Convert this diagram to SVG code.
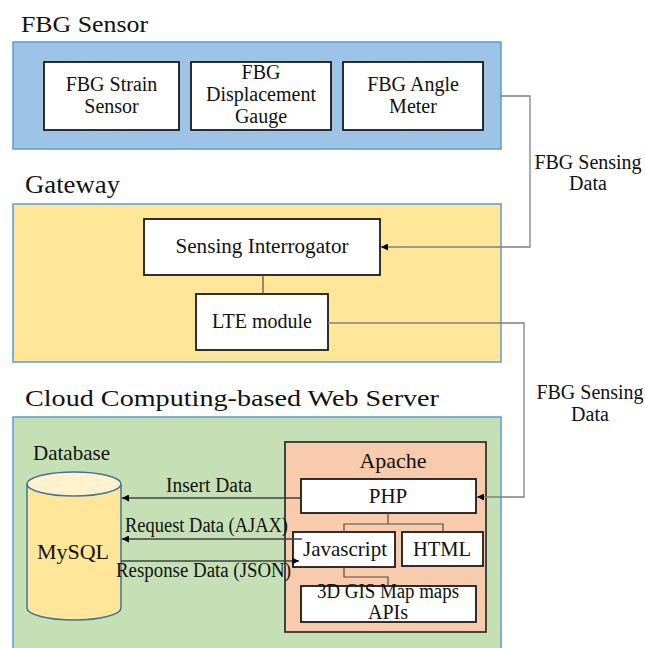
<svg xmlns="http://www.w3.org/2000/svg" width="645" height="648" viewBox="0 0 645 648">
<defs>
<style>
text{font-family:"Liberation Serif","Times New Roman",serif;fill:#111111;}
.title{font-size:24px;}
.lbl{font-size:20px;text-anchor:middle;}
.panel{stroke:#5b9bd5;stroke-width:1.5;}
.box{fill:#ffffff;stroke:#1a1a1a;stroke-width:1.8;}
.ext{fill:none;stroke:#808080;stroke-width:1.3;}
.int{fill:none;stroke:#404040;stroke-width:1.3;}
.tree{fill:none;stroke:#5a4a3a;stroke-width:1.2;}
</style>
<marker id="ah" viewBox="0 0 10 10" refX="10" refY="5" markerWidth="7" markerHeight="7" markerUnits="userSpaceOnUse" orient="auto">
<path d="M0,0 L10,5 L0,10 Z" fill="#000"/>
</marker>
</defs>
<rect width="645" height="648" fill="#ffffff"/>

<g id="panel-fbg-sensor">
<text class="title" x="21" y="32" textLength="127" lengthAdjust="spacingAndGlyphs">FBG Sensor</text>
<rect class="panel" x="13" y="42" width="488" height="107" fill="#9dc3e6"/>
</g>
<g id="node-strain">
<rect class="box" x="44" y="62" width="135" height="68"/>
<text class="lbl" x="111.5" y="91">FBG Strain</text>
<text class="lbl" x="111.5" y="113">Sensor</text>
</g>
<g id="node-displacement">
<rect class="box" x="191" y="62" width="140" height="68"/>
<text class="lbl" x="261" y="79">FBG</text>
<text class="lbl" x="261" y="101">Displacement</text>
<text class="lbl" x="261" y="123">Gauge</text>
</g>
<g id="node-angle">
<rect class="box" x="343" y="62" width="140" height="68"/>
<text class="lbl" x="413" y="91">FBG Angle</text>
<text class="lbl" x="413" y="113">Meter</text>
</g>

<g id="panel-gateway">
<text class="title" x="25" y="193" style="font-size:25px" textLength="95" lengthAdjust="spacingAndGlyphs">Gateway</text>
<rect class="panel" x="13" y="204" width="488" height="158" fill="#ffe699"/>
</g>
<g id="node-interrogator">
<rect class="box" x="144" y="219" width="236" height="56"/>
<text class="lbl" x="262" y="253" textLength="173" lengthAdjust="spacingAndGlyphs">Sensing Interrogator</text>
</g>
<g id="node-lte">
<rect class="box" x="196" y="294" width="132" height="56"/>
<text class="lbl" x="262" y="328">LTE module</text>
</g>

<g id="panel-cloud">
<text class="title" x="25" y="406" textLength="414" lengthAdjust="spacingAndGlyphs">Cloud Computing-based Web Server</text>
<rect class="panel" x="13" y="417" width="488" height="240" fill="#c5e0b4"/>
</g>
<g id="node-mysql">
<text x="33" y="460" style="font-size:21px">Database</text>
<path d="M27,484 L27,608 A47,12 0 0 0 121,608 L121,484" fill="#ffe699" stroke="#41719c" stroke-width="1.5"/>
<ellipse cx="74" cy="484" rx="47" ry="12" fill="#fff2cc" stroke="#41719c" stroke-width="1.5"/>
<text x="73" y="559" style="font-size:22px;text-anchor:middle">MySQL</text>
</g>
<g id="node-apache">
<rect x="285" y="442" width="201" height="190" fill="#f8cbad" stroke="#333333" stroke-width="1.8"/>
<text x="393" y="468" style="font-size:22px;text-anchor:middle">Apache</text>
</g>
<g id="node-php">
<rect class="box" x="301" y="479" width="175" height="34"/>
<text class="lbl" x="388" y="503" style="font-size:21px">PHP</text>
</g>
<g id="node-javascript">
<rect class="box" x="293" y="532" width="102" height="35"/>
<text class="lbl" x="345" y="556" style="font-size:21px">Javascript</text>
</g>
<g id="node-html">
<rect class="box" x="402" y="532" width="81" height="34"/>
<text class="lbl" x="442" y="556" style="font-size:20.5px">HTML</text>
</g>
<g id="node-gis">
<rect class="box" x="301" y="586" width="175" height="36"/>
<text class="lbl" x="388" y="598" textLength="142" lengthAdjust="spacingAndGlyphs">3D GIS Map maps</text>
<text class="lbl" x="388" y="619">APIs</text>
</g>

<g id="connectors">
<polyline class="ext" points="501,96 530,96 530,247 381,247" marker-end="url(#ah)"/>
<text class="lbl" x="588" y="169">FBG Sensing</text>
<text class="lbl" x="588" y="190">Data</text>
<line class="tree" x1="263" y1="275" x2="263" y2="294"/>
<polyline class="ext" points="328,323 524,323 524,497 477,497" marker-end="url(#ah)"/>
<text class="lbl" x="590" y="399">FBG Sensing</text>
<text class="lbl" x="590" y="421">Data</text>
<line class="int" x1="301" y1="498" x2="122" y2="498" marker-end="url(#ah)"/>
<text x="209" y="492" style="font-size:20px;text-anchor:middle" textLength="86" lengthAdjust="spacingAndGlyphs">Insert Data</text>
<line class="int" x1="302" y1="539" x2="122" y2="539" marker-end="url(#ah)"/>
<text x="125" y="532" style="font-size:20px" textLength="163" lengthAdjust="spacingAndGlyphs">Request Data (AJAX)</text>
<line class="int" x1="121" y1="561" x2="299" y2="561" marker-end="url(#ah)"/>
<text x="116" y="577" style="font-size:20px" textLength="175" lengthAdjust="spacingAndGlyphs">Response Data (JSON)</text>
<polyline class="tree" points="388,513 388,524"/>
<polyline class="tree" points="344,532 344,524 443,524 443,532"/>
<polyline class="tree" points="344,567 344,577 388,577 388,586"/>
</g>
</svg>
